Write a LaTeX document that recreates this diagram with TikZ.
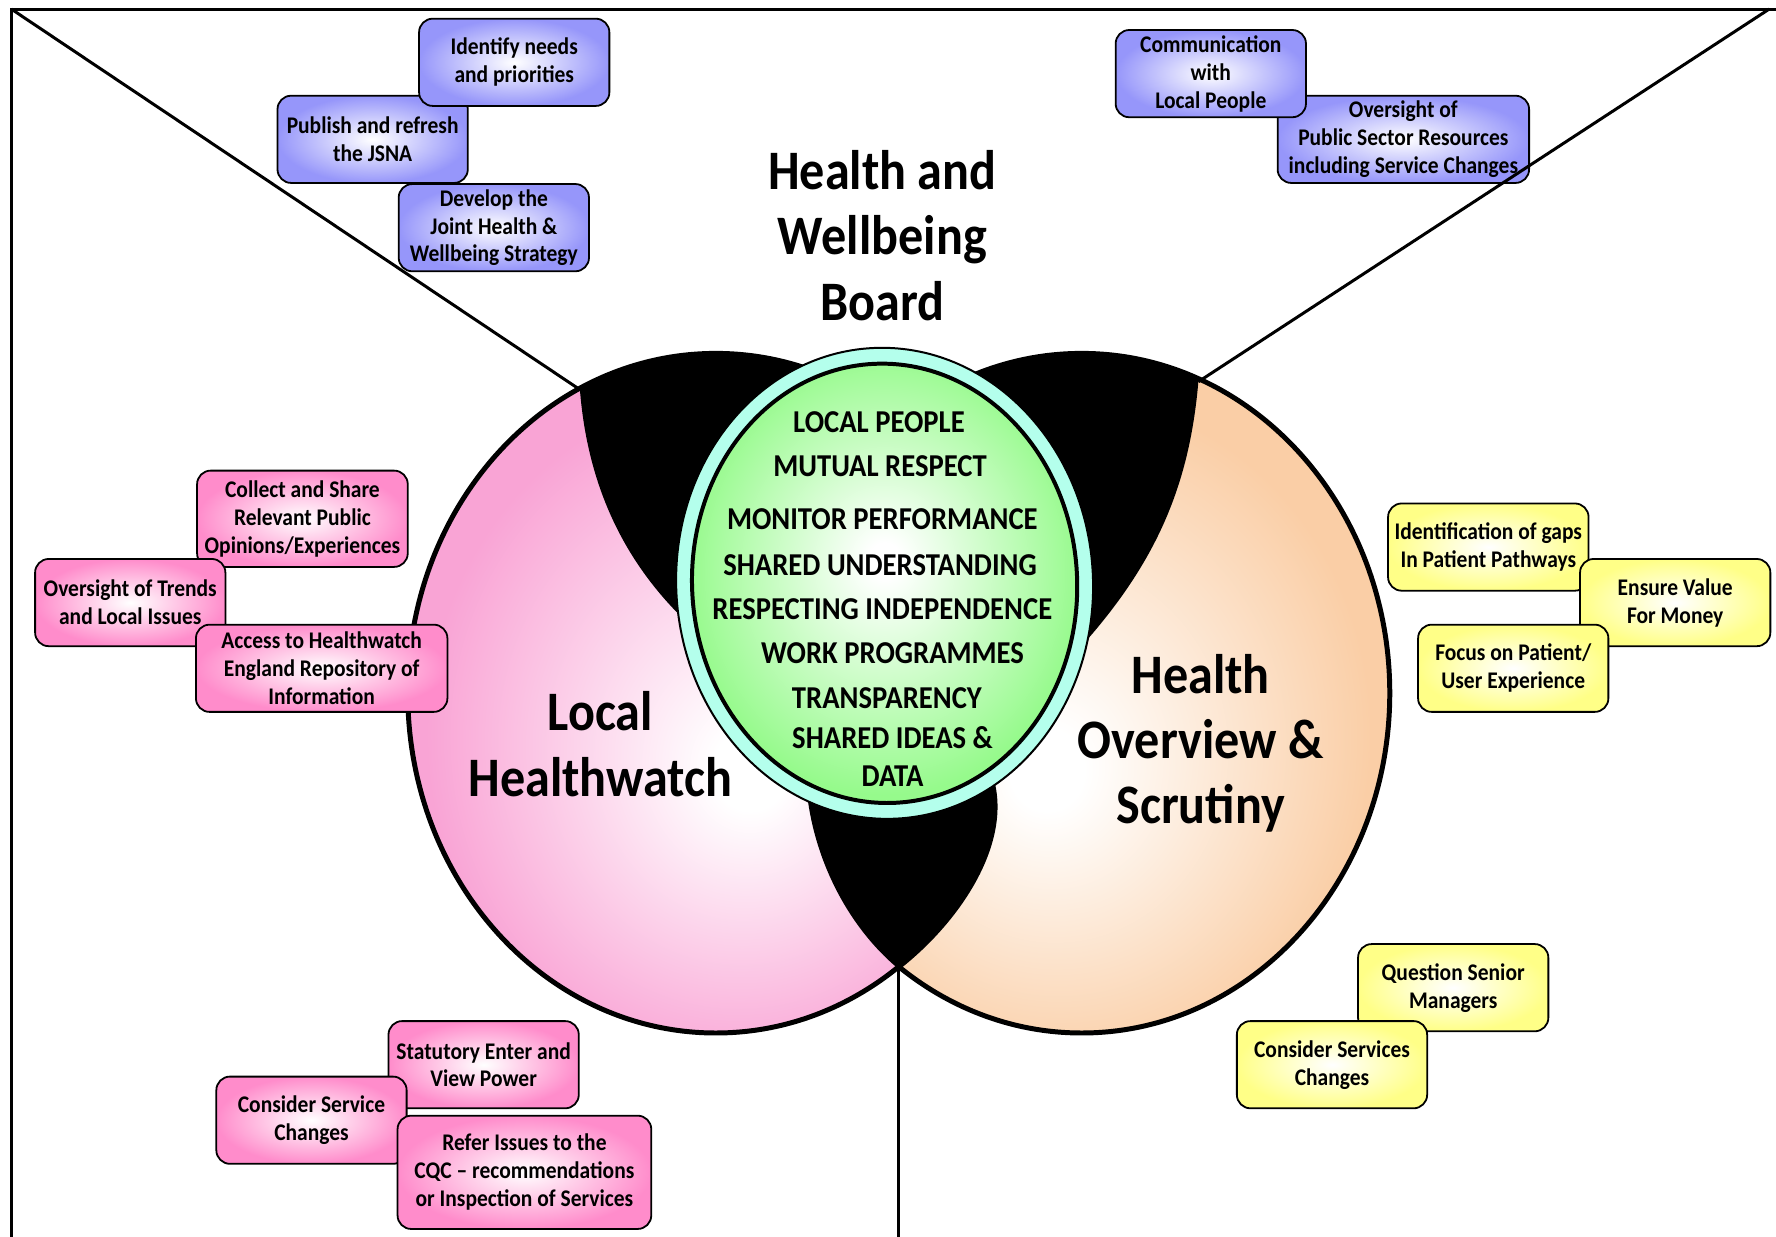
\documentclass[tikz,border=0pt]{standalone}
\usepackage{fontspec}
\setmainfont{Carlito}[FakeStretch=0.9]
\usepackage{tikz}
\usetikzlibrary{calc}
\definecolor{pinkfill}{RGB}{249,164,213}
\definecolor{peachfill}{RGB}{250,206,166}
\definecolor{greenfill}{RGB}{150,250,140}
\definecolor{ringfill}{RGB}{180,255,236}
\definecolor{boxblue}{RGB}{150,150,250}
\definecolor{boxpink}{RGB}{255,140,203}
\definecolor{boxyellow}{RGB}{255,255,135}
\pgfdeclareradialshading{pinkglow}{\pgfpoint{3bp}{-6bp}}{color(0bp)=(white);color(3bp)=(white);color(25bp)=(pinkfill);color(50bp)=(pinkfill)}
\pgfdeclareradialshading{peachglow}{\pgfpoint{-3bp}{-6bp}}{color(0bp)=(white);color(3bp)=(white);color(25bp)=(peachfill);color(50bp)=(peachfill)}
\pgfdeclareradialshading{greenglow}{\pgfpoint{0bp}{3bp}}{color(0bp)=(white);color(2bp)=(white);color(25bp)=(greenfill);color(50bp)=(greenfill)}

\begin{document}
\begin{tikzpicture}[x=0.2mm,y=-0.2mm,
  box/.style={draw=black,line width=0.9pt,rounded corners=2.4mm,align=center,inner sep=1pt,
    font=\fontsize{12}{14}\selectfont\bfseries,inner color=white,minimum width=33.6mm,minimum height=15.4mm},
  bluebox/.style={box,outer color=boxblue},
  pinkbox/.style={box,outer color=boxpink},
  yellowbox/.style={box,outer color=boxyellow},
  bigtitle/.style={align=center,font=\fontsize{28}{32.7}\selectfont\bfseries},
  value/.style={align=center,font=\fontsize{16}{18.8}\selectfont\bfseries},
  divider/.style={line width=1.5pt},
  rim/.style={line width=2.5pt}]
\useasboundingbox (0,0) rectangle (1568,1092);
\coordinate (lc) at (632,612);
\coordinate (rc) at (955,612);
\coordinate (hub) at (781,515);

\shade[shading=pinkglow] (lc) ellipse [x radius=272, y radius=300];
\begin{scope}
\clip (793.5,0) rectangle (1300,1000);
\shade[shading=peachglow] (rc) ellipse [x radius=272, y radius=300];
\end{scope}
\begin{scope}
\clip (lc) ellipse [x radius=272, y radius=300] (rc) ellipse [x radius=272, y radius=300];
\fill[black] (495,260) -- (512,344) .. controls (518,420) and (545,490) .. (605,548) -- (700,600) -- (712,696)
  .. controls (718,760) and (750,820) .. (794,856) .. controls (850,812) and (892,745) .. (878,690)
  -- (886,600) -- (948,578) .. controls (1020,500) and (1050,430) .. (1058,337) -- (1070,260) -- cycle;
\end{scope}
\begin{scope}[even odd rule]
\clip (0,0) rectangle (1568,1092) (rc) ellipse [x radius=272, y radius=300];
\draw[rim] (lc) ellipse [x radius=272, y radius=300];
\end{scope}
\begin{scope}[even odd rule]
\clip (0,0) rectangle (1568,1092) (lc) ellipse [x radius=272, y radius=300];
\draw[rim] (rc) ellipse [x radius=272, y radius=300];
\end{scope}

\draw[line width=1pt,fill=ringfill,rotate around={3:(hub)}] (hub) ellipse [x radius=184, y radius=208];
\shadedraw[shading=greenglow,line width=2pt,rotate around={3:(hub)}] (hub) ellipse [x radius=170, y radius=194];

\node[bigtitle] (hwb) at (779,208) {Health and\\Wellbeing\\Board};
\node[bigtitle] (healthwatch) at (530,657) {Local\\Healthwatch};
\node[bigtitle] (scrutiny) at (1060,656) {Health\\Overview \&\\Scrutiny};

\foreach \txt/\xx/\yy [count=\i] in {LOCAL PEOPLE/776/373, MUTUAL RESPECT/777/412,
    MONITOR PERFORMANCE/779/458, SHARED UNDERSTANDING/777/499, RESPECTING INDEPENDENCE/779/538,
    WORK PROGRAMMES/788/577, TRANSPARENCY/783/616, SHARED IDEAS \&\\DATA/788/668}
  \node[value] (value\i) at (\xx,\yy) {\txt};

\node[bluebox] (jsna) at (329,123) {Publish and refresh\\the JSNA};
\node[bluebox] (needs) at (454,55) {Identify needs\\and priorities};
\node[bluebox] (strategy) at (436,201) {Develop the\\Joint Health \&\\Wellbeing Strategy};
\node[bluebox,minimum width=44.4mm] (resources) at (1239,123) {Oversight of\\Public Sector Resources\\including Service Changes};
\node[bluebox] (comms) at (1069,65) {Communication\\with\\Local People};

\node[pinkbox,minimum width=37.2mm,minimum height=17mm] (opinions) at (267,458) {Collect and Share\\Relevant Public\\Opinions/Experiences};
\node[pinkbox] (trends) at (115,532) {Oversight of Trends\\and Local Issues};
\node[pinkbox,minimum width=44.4mm] (repository) at (284,590) {Access to Healthwatch\\England Repository of\\Information};
\node[pinkbox] (enterview) at (427,940) {Statutory Enter and\\View Power};
\node[pinkbox] (hwchanges) at (275,989) {Consider Service\\Changes};
\node[pinkbox,minimum width=44.8mm,minimum height=20mm] (cqc) at (463,1035) {Refer Issues to the\\CQC -- recommendations\\or Inspection of Services};

\node[yellowbox,minimum width=35.4mm] (gaps) at (1314,483) {Identification of gaps\\In Patient Pathways};
\node[yellowbox] (money) at (1479,532) {Ensure Value\\For Money};
\node[yellowbox] (experience) at (1336,590) {Focus on Patient/\\User Experience};
\node[yellowbox] (managers) at (1283,872) {Question Senior\\Managers};
\node[yellowbox] (oschanges) at (1176,940) {Consider Services\\Changes};

\coordinate (tl) at (10,8);
\coordinate (tr) at (1568,8);
\coordinate (trcut) at (1562,8);
\coordinate (bl) at (10,1092);
\coordinate (lcut) at (512,344);
\coordinate (rcut) at (1058,337);
\coordinate (bcut) at (793.5,854);
\coordinate (bm) at (793.5,1092);
\draw[divider] (bl) -- (tl) -- (tr);
\draw[divider] (tl) -- (lcut);
\draw[divider] (trcut) -- (rcut);
\draw[divider] (bcut) -- (bm);
\end{tikzpicture}
\end{document}
